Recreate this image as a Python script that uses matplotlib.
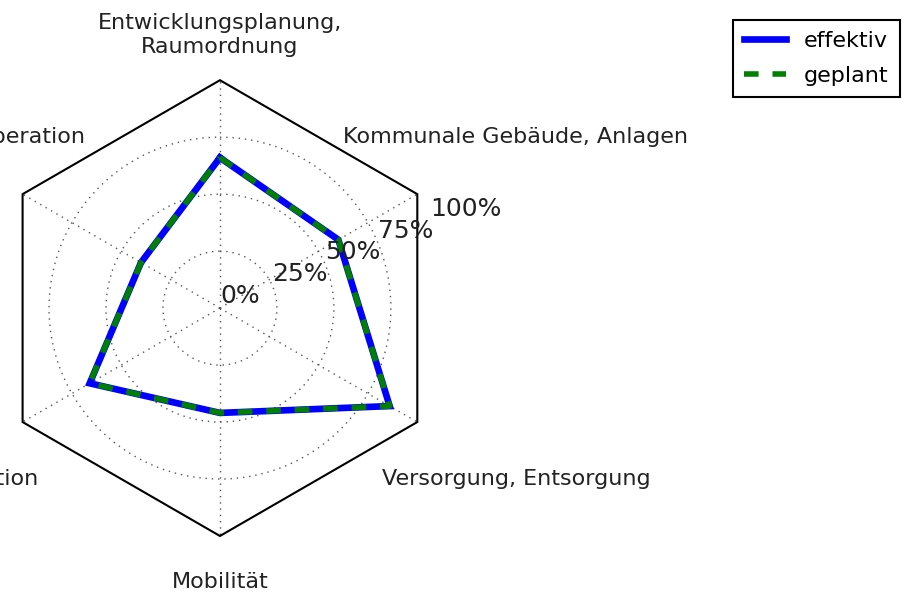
import numpy as np
import matplotlib
matplotlib.use("Agg")
import matplotlib.pyplot as plt
from matplotlib.patches import Polygon

# categories clockwise from the top
categories = [
    "Entwicklungsplanung,\nRaumordnung",
    "Kommunale Gebäude, Anlagen",
    "Versorgung, Entsorgung",
    "Mobilität",
    "Interne Organisation",
    "Kommunikation, Kooperation",
]
effektiv = [0.66, 0.60, 0.86, 0.46, 0.66, 0.40]
geplant = [0.66, 0.60, 0.86, 0.46, 0.66, 0.40]
r_ticks = [0.0, 0.25, 0.5, 0.75, 1.0]
r_labels = ["0%", "25%", "50%", "75%", "100%"]

plt.rcParams["lines.scale_dashes"] = False

fig = plt.figure(figsize=(9.1, 5.95), dpi=100)
ax = fig.add_axes([-0.0088, 0.0992, 0.501, 0.766], projection="polar")
ax.set_theta_offset(np.pi / 2)
ax.set_theta_direction(-1)
ax.set_ylim(0, 1)

theta = np.linspace(0, 2 * np.pi, len(categories), endpoint=False)
closed = np.append(theta, theta[0])

# hexagon frame instead of the round spine
ax.spines["polar"].set_visible(False)
ax.patch.set_visible(False)
frame = Polygon(np.column_stack([theta, np.ones(len(theta))]), closed=True,
                transform=ax.transData, fill=False, edgecolor="black",
                linewidth=1.5, clip_on=False, zorder=3)
ax.add_patch(frame)

# grid
ax.set_xticks(theta)
ax.set_xticklabels([])
ax.set_yticks(r_ticks[1:-1])
ax.set_yticklabels([])
ax.grid(True, color="#555555", linestyle=(0, (1, 3.5)), linewidth=1.0)
ax.tick_params(length=0)

for r, lab in zip(r_ticks, r_labels):
    ax.text(np.radians(67.5), r, lab, ha="left", va="bottom",
            fontsize=18, color="#222222", clip_on=False, zorder=5)

label_r = [1.2, 1.5, 1.5, 1.2, 1.5, 1.5]
for t, rr, lab in zip(theta, label_r, categories):
    ax.text(t, rr, lab, ha="center", va="center", fontsize=16,
            color="#222222", clip_on=False, linespacing=1.25)

l1, = ax.plot(closed, effektiv + effektiv[:1], color="blue", linewidth=4.8,
              solid_joinstyle="miter", zorder=4)
l2, = ax.plot(closed, geplant + geplant[:1], color="green", linewidth=4,
              dashes=(10.5, 10), zorder=4.5)

leg = fig.legend([l1, l2], ["effektiv", "geplant"], loc="upper right",
                 bbox_to_anchor=(1.001, 0.985), fontsize=16, fancybox=False,
                 framealpha=1, edgecolor="black", handlelength=1.9,
                 handletextpad=0.8, borderpad=0.5, labelspacing=0.68)
leg.get_frame().set_linewidth(1.5)

fig.savefig("out.png", dpi=100)
